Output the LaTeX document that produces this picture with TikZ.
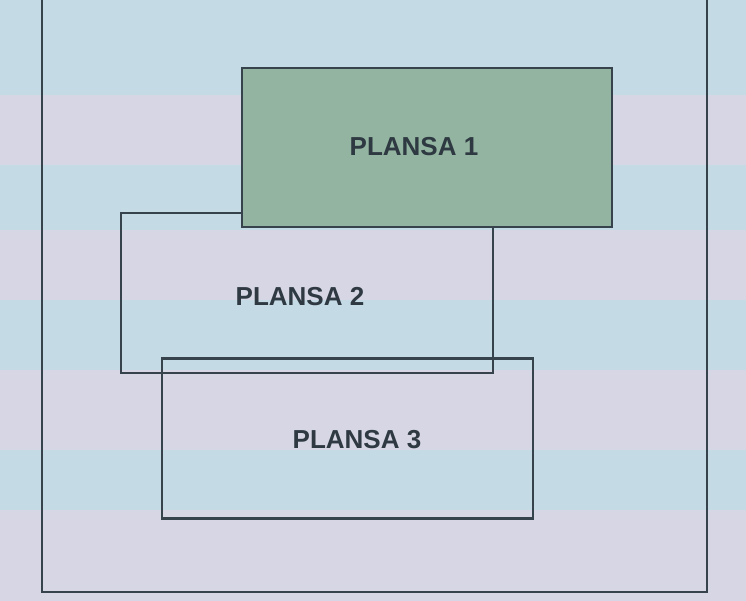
\documentclass[tikz,border=0pt]{standalone}
\usepackage{fontspec}
\setmainfont{Liberation Sans}
\definecolor{bgblue}{HTML}{C4DAE5}
\definecolor{bgpink}{HTML}{D7D6E4}
\definecolor{sheetgreen}{HTML}{92B4A0}
\definecolor{linegray}{HTML}{36434D}
\tikzset{
  sheet/.style={draw=linegray, line width=2.4pt, rectangle, inner sep=0pt},
  sheettext/.style={font=\fontsize{26}{31}\selectfont\bfseries, text=linegray!85!black}
}
\begin{document}
\begin{tikzpicture}[x=1pt,y=-1pt]
\useasboundingbox (0,0) rectangle (746,601);
% background stripes
\fill[bgblue] (0,0) rectangle (746,601);
\fill[bgpink] (0,95) rectangle (746,165);
\fill[bgpink] (0,230) rectangle (746,300);
\fill[bgpink] (0,370) rectangle (746,450);
\fill[bgpink] (0,510) rectangle (746,601);
% outer frame
\node[sheet, minimum width=665pt, minimum height=602pt] (frame) at (374.5,291) {};
% sheets
\node[sheet, minimum width=371pt, minimum height=160pt] (p3) at (347.5,438.5) {};
\node[sheet, minimum width=372pt, minimum height=160pt] (p2) at (307,293) {};
\node[sheet, fill=sheetgreen, minimum width=370pt, minimum height=159pt] (p1) at (427,147.5) {};
% labels
\node[sheettext] (t1) at (414,147) {PLANSA 1};
\node[sheettext] (t2) at (300,297) {PLANSA 2};
\node[sheettext] (t3) at (357,440) {PLANSA 3};
\end{tikzpicture}
\end{document}
